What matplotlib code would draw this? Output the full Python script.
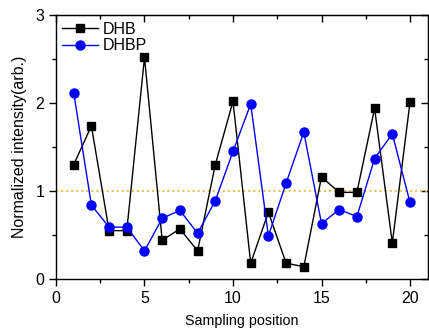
import matplotlib.pyplot as plt
from matplotlib.ticker import MultipleLocator

plt.rcParams['font.family'] = ['Liberation Sans', 'DejaVu Sans']

position = list(range(1, 21))
dhb = [1.30, 1.74, 0.55, 0.55, 2.52, 0.44, 0.57, 0.32, 1.30, 2.02,
       0.18, 0.76, 0.18, 0.14, 1.16, 0.985, 0.985, 1.94, 0.41, 2.01]
dhbp = [2.12, 0.84, 0.59, 0.59, 0.32, 0.69, 0.78, 0.52, 0.89, 1.45,
        1.99, 0.49, 1.09, 1.67, 0.63, 0.79, 0.71, 1.37, 1.65, 0.87]

fig = plt.figure(figsize=(4.29, 3.36), dpi=100)
ax = fig.add_axes([0.1305, 0.1696, 0.8665, 0.7854])

ax.axhline(1, color='#e8bf4a', linestyle=(0, (1.2, 1.6)), linewidth=1.3, zorder=1)
ax.plot(position, dhb, color='black', marker='s', markersize=5.5, linewidth=1.0, label='DHB')
ax.plot(position, dhbp, color='blue', marker='o', markersize=6.5, linewidth=1.0, label='DHBP')

ax.set_xlim(0, 21)
ax.set_ylim(0, 3)
ax.xaxis.set_major_locator(MultipleLocator(5))
ax.xaxis.set_minor_locator(MultipleLocator(2.5))
ax.yaxis.set_major_locator(MultipleLocator(1))
ax.yaxis.set_minor_locator(MultipleLocator(0.5))
ax.tick_params(which='both', direction='out', labelsize=11.5, width=1)
ax.tick_params(which='major', length=5)
ax.tick_params(which='minor', length=3)
for s in ax.spines.values():
    s.set_linewidth(1.0)

# mirrored ticks pointing inward on top and right
top = ax.secondary_xaxis('top')
top.xaxis.set_major_locator(MultipleLocator(5))
top.xaxis.set_minor_locator(MultipleLocator(2.5))
top.tick_params(which='both', direction='in', labeltop=False, width=1)
top.tick_params(which='major', length=5)
top.tick_params(which='minor', length=3)
right = ax.secondary_yaxis('right')
right.yaxis.set_major_locator(MultipleLocator(1))
right.yaxis.set_minor_locator(MultipleLocator(0.5))
right.tick_params(which='both', direction='in', labelright=False, width=1)
right.tick_params(which='major', length=5)
right.tick_params(which='minor', length=3)

ax.set_xlabel('Sampling position', fontsize=10.3, labelpad=6)
ax.set_ylabel('Normalized intensity(arb.)', fontsize=11.5, labelpad=6)

ax.legend(loc='upper left', frameon=False, fontsize=11.5, handlelength=2.2,
          borderaxespad=0.0, borderpad=0.4, labelspacing=0.1, handletextpad=0.3)

fig.savefig('out.png', dpi=100)
